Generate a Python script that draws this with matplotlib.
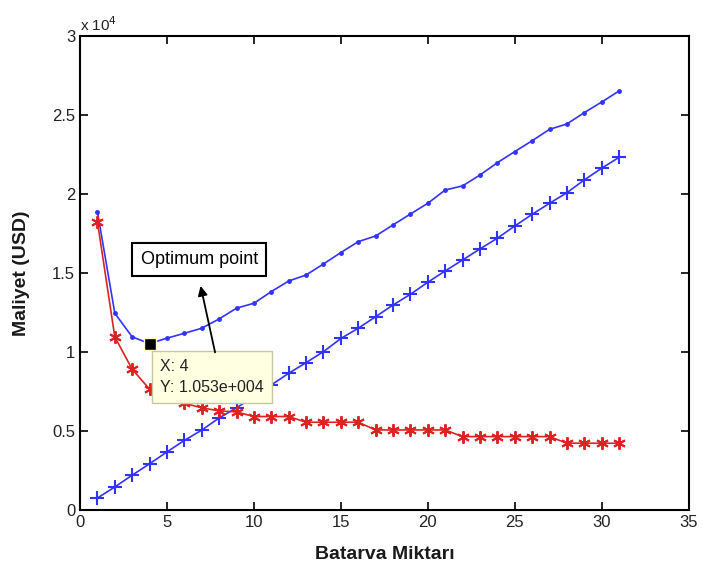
import matplotlib
matplotlib.use("Agg")
import matplotlib.pyplot as plt
import numpy as np

plt.rcParams['font.family'] = ['Liberation Sans', 'DejaVu Sans']

# battery count
batteries = list(range(1, 32))

# total cost (blue, dots), x1e4
total_cost = [1.888, 1.245, 1.095, 1.053, 1.087, 1.118, 1.150, 1.209, 1.277, 1.308,
              1.382, 1.449, 1.487, 1.557, 1.629, 1.698, 1.734, 1.804, 1.873, 1.941,
              2.025, 2.051, 2.120, 2.198, 2.268, 2.337, 2.409, 2.443, 2.515, 2.582,
              2.652]

# battery cost (blue, +), x1e4
battery_cost = [0.075, 0.145, 0.220, 0.292, 0.367, 0.440, 0.505, 0.582, 0.646, 0.718,
                0.791, 0.865, 0.932, 1.002, 1.085, 1.150, 1.223, 1.297, 1.365, 1.441,
                1.513, 1.582, 1.652, 1.720, 1.797, 1.871, 1.941, 2.008, 2.089, 2.163,
                2.232]

# other cost (red, *), x1e4
other_cost = [1.825, 1.095, 0.890, 0.764, 0.718, 0.675, 0.646, 0.627, 0.620, 0.591,
              0.591, 0.591, 0.555, 0.555, 0.555, 0.555, 0.506, 0.506, 0.506, 0.506,
              0.506, 0.464, 0.464, 0.464, 0.464, 0.464, 0.464, 0.422, 0.422, 0.422,
              0.422]

opt_x = 4
opt_y = 1.053e4

fig = plt.figure(figsize=(7.02, 5.71), dpi=100)
ax = fig.add_axes([0.114, 0.107, 0.867, 0.83])

tot = np.array(total_cost) * 1e4
bat = np.array(battery_cost) * 1e4
oth = np.array(other_cost) * 1e4

ax.plot(batteries, tot, color='#3333ff', marker='.', markersize=5, linewidth=1.2)
ax.plot(batteries, bat, color='#3333ff', marker='+', markersize=10,
        markeredgewidth=1.5, linewidth=1.2)
ax.plot(batteries, oth, color='#dd2222', marker=(6, 2, 0), markersize=9,
        markeredgewidth=1.4, linewidth=1.2)

# data tip
ax.plot([opt_x], [opt_y], marker='s', color='black', markersize=8,
        markeredgecolor='#ffffcc', linestyle='none', zorder=5)
ax.text(opt_x + 0.6, opt_y - 0.1e4, 'X: 4\nY: 1.053e+004', fontsize=11.5,
        va='top', ha='left', linespacing=1.5, color='#222222',
        bbox=dict(boxstyle='square,pad=0.5', facecolor='#ffffe1',
                  edgecolor='#c8c8a0', linewidth=1), zorder=6)

# annotation
ax.annotate('', xy=(6.9, 1.435e4), xytext=(7.8, 0.98e4),
            arrowprops=dict(arrowstyle='-|>', color='black', lw=1.3,
                            mutation_scale=14), zorder=7)
ax.text(6.85, 1.585e4, 'Optimum point', fontsize=13, ha='center', va='center',
        bbox=dict(boxstyle='square,pad=0.45', facecolor='white',
                  edgecolor='black', linewidth=1.5))

ax.set_xlim(0, 35)
ax.set_ylim(0, 3e4)
ax.set_xticks(range(0, 36, 5))
ax.set_yticks(np.arange(0, 3.01e4, 0.5e4))
ax.set_yticklabels(['0', '0.5', '1', '1.5', '2', '2.5', '3'])
ax.tick_params(direction='in', length=6, width=1.2, labelsize=12,
               top=True, right=True, labelcolor='#222222')
for s in ax.spines.values():
    s.set_linewidth(1.5)

ax.text(0.0, 1.005, 'x 10$^4$', transform=ax.transAxes, fontsize=11,
        ha='left', va='bottom', color='#222222')

ax.set_xlabel('Batarva Miktarı', fontsize=14, fontweight='bold', color='#1a1a1a',
              labelpad=12)
ax.set_ylabel('Maliyet (USD)', fontsize=14, fontweight='bold', color='#1a1a1a',
              labelpad=16)

fig.savefig('out.png', dpi=100)
